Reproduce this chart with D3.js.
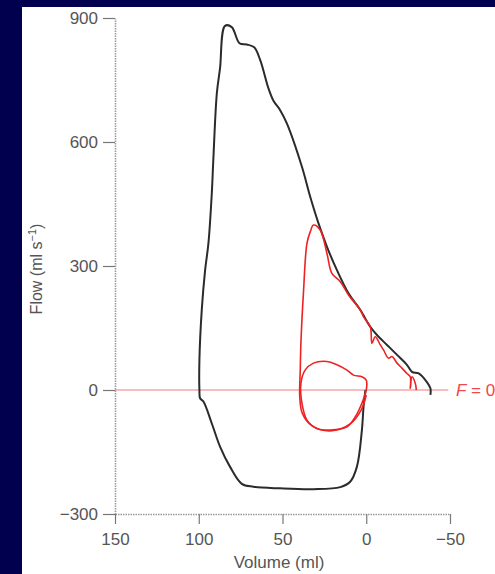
<!DOCTYPE html>
<html>
<head>
<meta charset="utf-8">
<script src="https://cdn.jsdelivr.net/npm/d3@7"></script>
<style>
  html, body { margin: 0; padding: 0; background: #00004f; }
  svg { display: block; }
</style>
</head>
<body>
<div id="chart"></div>
<script>
const width = 495;
const height = 574;

// tick values of the axes
const volumeTicks = [150, 100, 50, 0, -50];
const flowTicks = [-300, 0, 300, 600, 900];

// black loop: [volume ml, flow ml/s]
const blackLoop = [
  [0.5, 0], [1.6, -40], [2.6, -97], [5.6, -186], [9.6, -222], [15.5, -235],
  [31.5, -240], [51.4, -238], [67.3, -234], [74.3, -227], [81.3, -186],
  [87.3, -137], [92.2, -81], [97.2, -28], [99.2, -20], [99.6, 0], [99.6, 73],
  [98.2, 194], [96.2, 290], [94.2, 356], [92.2, 477], [91.3, 557], [89.2, 718],
  [87.3, 778], [84.3, 881], [80.3, 878], [75.7, 839], [71.3, 836], [66.9, 829],
  [63.3, 798], [58.4, 730], [55.4, 700], [51.4, 677], [47.4, 645], [38.4, 540],
  [33.5, 468], [28.5, 403], [23.5, 347], [17.5, 290], [10.6, 234], [3.6, 194],
  [-2.4, 153], [-6.4, 133], [-12.4, 109], [-18.4, 85], [-24.3, 61], [-27.3, 44],
  [-31.3, 40], [-35.3, 24], [-38.3, 4], [-38.3, -12]
];

// red forced breath
const redBreath = [
  [0, -12], [3, -48], [9.6, -82], [21.5, -99], [32.3, -87], [38.2, -56],
  [39.7, -17], [39.4, 48], [39, 114], [37.5, 235], [35.4, 355], [33.5, 382],
  [31.5, 399], [27.5, 387], [23.5, 331], [20.5, 282], [15.5, 262], [10.6, 230],
  [3.6, 194], [1.6, 177], [-2.4, 153], [-3.4, 113], [-5.4, 129], [-8.4, 109],
  [-10.3, 97], [-13.3, 77], [-15.4, 81], [-18.4, 65], [-21.3, 53], [-24.3, 40],
  [-26.3, 32], [-26.3, 4], [-27.3, 32], [-29.3, 16], [-29.9, 0]
];

// red tidal loop
const redTidal = [
  [23.5, 69], [31.5, 65], [36.5, 48], [39, 16], [38.4, -32], [35.4, -73],
  [29.5, -93], [21.5, -97], [11.5, -89], [6.6, -65], [2.6, -32], [0, 0],
  [0, 24], [2.6, 32], [7.6, 36], [11.5, 48], [17.5, 61]
];

const x = d3.scaleLinear().domain([150, -50]).range([115, 450]);
const y = d3.scaleLinear().domain([-300, 900]).range([514, 18]);

const svg = d3.create("svg")
    .attr("width", width)
    .attr("height", height)
    .style("font-family", "'Liberation Sans', Arial, sans-serif");

svg.append("rect")
    .attr("width", width).attr("height", height)
    .attr("fill", "#00004f");

// white panel
svg.append("rect")
    .attr("x", 22).attr("y", 7)
    .attr("width", width - 22).attr("height", height - 7)
    .attr("fill", "#ffffff");

// F = 0 line
svg.append("line")
    .attr("x1", x(150)).attr("x2", x(-49))
    .attr("y1", y(0)).attr("y2", y(0))
    .attr("stroke", "#f27a7a")
    .attr("stroke-width", 1.2);

svg.append("text")
    .attr("x", 456).attr("y", y(0) + 6)
    .attr("fill", "#f04848")
    .style("font-size", "17px")
    .html('<tspan font-style="italic">F</tspan> = 0');

// axes
const yAxis = svg.append("g")
    .attr("transform", `translate(${x(150)},0)`)
    .call(d3.axisLeft(y).tickValues(flowTicks).tickSize(12).tickSizeOuter(0).tickPadding(5));

const xAxis = svg.append("g")
    .attr("transform", `translate(0,${y(-300)})`)
    .call(d3.axisBottom(x).tickValues(volumeTicks).tickSize(10).tickSizeOuter(0).tickPadding(9));

[yAxis, xAxis].forEach(g => {
  g.select(".domain")
      .attr("stroke", "#9a9a9a")
      .attr("stroke-width", 1.6)
      .attr("stroke-dasharray", "1.5,1");
  g.selectAll(".tick line").attr("stroke", "#777").attr("stroke-width", 1.2);
  g.selectAll(".tick text")
      .attr("fill", "#555")
      .style("font-size", "17px")
      .style("font-family", "'Liberation Sans', Arial, sans-serif");
});

// axis titles
svg.append("text")
    .attr("transform", "translate(42,269) rotate(-90)")
    .attr("text-anchor", "middle")
    .attr("fill", "#555")
    .style("font-size", "16px")
    .html('Flow (ml s<tspan dy="-6" font-size="11px">−1</tspan><tspan dy="6">)</tspan>');

svg.append("text")
    .attr("x", 279).attr("y", 568)
    .attr("text-anchor", "middle")
    .attr("fill", "#555")
    .style("font-size", "17px")
    .text("Volume (ml)");

const line = d3.line().x(d => x(d[0])).y(d => y(d[1]));

svg.append("path")
    .datum(blackLoop)
    .attr("d", line.curve(d3.curveCatmullRom.alpha(0.5)))
    .attr("fill", "none")
    .attr("stroke", "#2b2b2b")
    .attr("stroke-width", 2)
    .attr("stroke-linejoin", "round");

svg.append("path")
    .datum(redTidal)
    .attr("d", line.curve(d3.curveCatmullRomClosed.alpha(0.5)))
    .attr("fill", "none")
    .attr("stroke", "#ee2222")
    .attr("stroke-width", 1.6);

svg.append("path")
    .datum(redBreath)
    .attr("d", line.curve(d3.curveCatmullRom.alpha(0.5)))
    .attr("fill", "none")
    .attr("stroke", "#ee2222")
    .attr("stroke-width", 1.6)
    .attr("stroke-linejoin", "round");

document.getElementById("chart").appendChild(svg.node());
</script>
</body>
</html>
